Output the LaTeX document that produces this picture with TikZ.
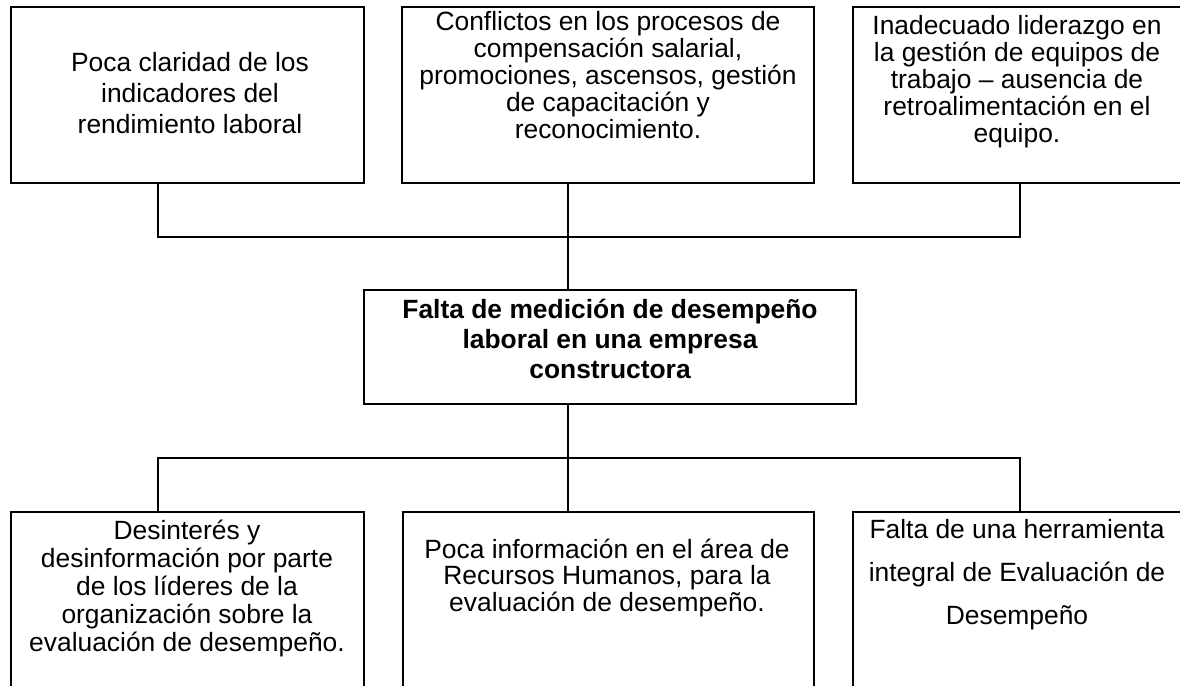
\documentclass[tikz,border=0pt]{standalone}
\usepackage{fontspec}
\setmainfont{Liberation Sans}
\begin{document}
\begin{tikzpicture}[x=1pt,y=-1pt]
\tikzset{
  box/.style={draw, line width=2.8pt, rectangle, inner sep=0pt},
  txt/.style={align=center, inner sep=0pt, font=\fontsize{26.4}{#1}\selectfont},
  link/.style={line width=2.4pt},
}
\useasboundingbox (0,0) rectangle (1180,685);
\clip (0,0) rectangle (1180,685);
\fill[white] (0,0) rectangle (1180,685);
% top boxes
\node[box, minimum width=353pt, minimum height=176pt] (t1) at (187.5,95) {};
\node[box, minimum width=412pt, minimum height=176pt] (t2) at (608,95) {};
\node[box, minimum width=334pt, minimum height=176pt] (t3) at (1020,95) {};
% central box
\node[box, minimum width=492pt, minimum height=114pt] (c) at (610,347) {};
% bottom boxes
\node[box, minimum width=353pt, minimum height=208pt] (b1) at (187.5,616) {};
\node[box, minimum width=411pt, minimum height=208pt] (b2) at (608.5,616) {};
\node[box, minimum width=334pt, minimum height=208pt] (b3) at (1020,616) {};
% texts
\node[txt=31] (t1t) at (190,93) {Poca claridad de los\\indicadores del\\rendimiento laboral};
\node[txt=26.8] (t2t) at (608,75) {Conflictos en los procesos de\\compensación salarial,\\promociones, ascensos, gestión\\de capacitación y\\reconocimiento.};
\node[txt=27] (t3t) at (1017,82) {Inadecuado liderazgo en\\la gestión de equipos de\\trabajo – ausencia de\\retroalimentación en el\\equipo.};
\node[txt=30, font=\fontsize{26.4}{30}\selectfont\bfseries] (ct) at (610,339) {Falta de medición de desempeño\\laboral en una empresa\\constructora};
\node[txt=28] (b1t) at (187,589) {Desinterés y\\desinformación por parte\\de los líderes de la\\organización sobre la\\evaluación de desempeño.};
\node[txt=26.5] (b2t) at (607,578) {Poca información en el área de\\Recursos Humanos, para la\\evaluación de desempeño.};
\node[txt=43] (b3t) at (1017,575) {Falta de una herramienta\\integral de Evaluación de\\Desempeño};
% connectors
\coordinate (uL) at (158,237);
\coordinate (uM) at (568,237);
\coordinate (uR) at (1020,237);
\coordinate (dL) at (158,458);
\coordinate (dM) at (568,458);
\coordinate (dR) at (1020,458);
\draw[link] (uL |- t1.south) -- (uL) -- (uR) -- (uR |- t3.south);
\draw[link] (uM |- t2.south) -- (uM |- c.north);
\draw[link] (dM |- c.south) -- (dM);
\draw[link] (dL |- b1.north) -- (dL) -- (dR) -- (dR |- b3.north);
\draw[link] (dM) -- (dM |- b2.north);
\end{tikzpicture}
\end{document}
